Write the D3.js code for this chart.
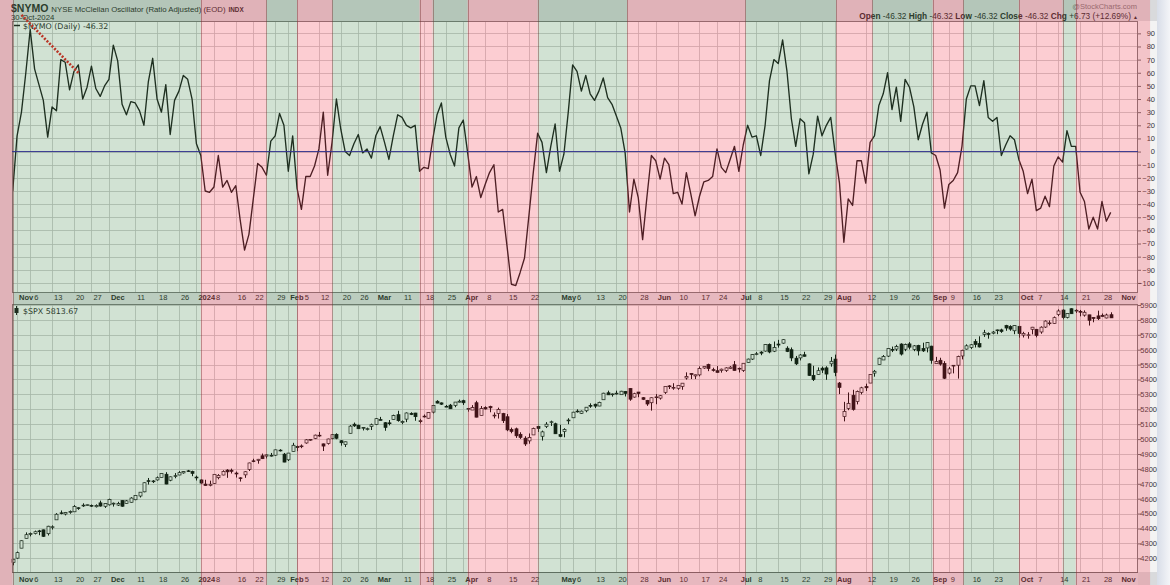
<!DOCTYPE html>
<html><head><meta charset="utf-8">
<script src="https://cdn.jsdelivr.net/npm/d3@7"></script>
<style>html,body{margin:0;padding:0;background:#fff;}svg{display:block;font-family:"Liberation Sans",Arial,sans-serif;}</style>
</head><body>
<svg id="chart" width="1170" height="585"></svg>
<script>
// ---------------- DATA ----------------
const firstDay = "2023-10-31";
const lastAxisDay = "2024-11-08";
const holidays = ["2023-11-23","2023-12-25","2024-01-01","2024-01-15","2024-02-19","2024-03-29","2024-05-27","2024-06-19","2024-07-04","2024-09-02"];

// $NYMO daily close, Oct 31 2023 .. Oct 30 2024
const nymo = [-30,12,30,60,93,63,51,39,11,34,31,70,68,47,61,66,40,49,65,48,
42,50,55,81,69,36,28,38,37,31,20,53,71,40,30,51,13,39,46,58,
55,40,6,-3,-30,-31,-27,-3,-27,-22,-31,-26,-52,-75,-63,-36,-9,-12,-18,8,
12,29,20,-15,12,-28,-44,-19,-19,-11,2,30,-18,7,40,17,0,-3,6,13,
-1,2,-5,12,19,7,-6,12,28,26,20,18,20,-15,-12,-13,9,28,37,11,
-2,-11,18,24,-1,-27,-19,-35,-25,-16,-10,-46,-44,-72,-101,-102,-92,-81,-49,-16,
14,7,-16,4,21,-15,-2,30,66,61,46,58,44,39,46,56,41,36,27,18,
-1,-46,-21,-35,-67,-34,-3,-7,-21,-5,-10,-32,-31,-40,-16,-32,-49,-34,-23,-22,
-19,2,-12,-16,-6,4,-15,5,20,11,12,-3,20,54,70,67,85,61,25,4,
25,22,-17,-2,27,12,20,26,-1,-24,-69,-36,-41,-7,-7,-24,7,12,35,44,
60,32,49,23,55,49,34,9,21,30,-1,-3,-14,-43,-25,-22,-16,4,40,50,
50,35,54,26,23,26,-3,5,12,9,-6,-15,-32,-21,-45,-43,-34,-42,-11,-4,
-8,16,4,4,-31,-38,-59,-50,-59,-38,-53,-46.32];

// $SPX daily OHLC, Oct 31 2023 .. Oct 30 2024
const spxOpen = [4171,4201,4268,4334,4364,4366,4384,4391,4365,4407,4458,4505,4497,4510,4512,4539,4553,4555,4555,4546,4572,4549,
4559,4564,4557,4587,4568,4576,4593,4618,4646,4721,4715,4726,4743,4764,4724,4754,4759,4773,4787,4782,
4745,4726,4698,4690,4703,4741,4759,4792,4791,4772,4740,4760,4797,4854,4857,4888,4886,4888,4892,4926,4899,
4861,4916,4951,4951,4974,4995,5005,5026,4968,4970,5004,5032,4989,4963,5039,5100,5093,5074,5068,5085,
5098,5131,5110,5109,5132,5164,5111,5134,5173,5175,5123,5154,5140,5181,5254,5243,5220,5228,5226,5248,
5258,5204,5195,5244,5158,5212,5218,5158,5172,5171,5150,5065,5069,5032,5006,4988,5028,5085,5019,5084,5114,5103,
5030,5050,5123,5143,5188,5173,5190,5226,5234,5222,5264,5311,5303,5305,5298,5320,5340,5282,5316,5278,5260,5244,
5283,5275,5314,5357,5343,5341,5354,5410,5441,5424,5431,5477,5500,5466,5459,5461,5461,5473,5499,
5471,5461,5514,5537,5572,5584,5591,5636,5590,5638,5644,5610,5600,5543,5545,5566,5505,5428,5434,5476,5478,5505,
5537,5376,5151,5206,5294,5252,5314,5352,5376,5443,5501,5531,5557,5602,5604,5638,5603,5639,5602,5629,5608,5612,
5624,5506,5529,5507,5443,5490,5496,5558,5604,5615,5655,5641,5703,5709,5711,5728,5733,5762,5756,5727,
5757,5698,5699,5737,5737,5719,5752,5778,5776,5836,5866,5817,5875,5860,5857,5832,5834,5816,5827,5831,5813,5835];
const spxHigh = [4195,4245,4320,4374,4373,4386,4391,4393,4418,4421,4503,4521,4511,4521,4557,4542,4569,4560,4561,4562,4587,4570,
4600,4574,4579,4590,4591,4610,4623,4644,4709,4739,4725,4749,4769,4778,4749,4772,4785,4785,4793,4788,
4755,4730,4727,4721,4765,4765,4791,4798,4802,4782,4744,4785,4842,4868,4867,4903,4898,4907,4929,4932,4907,
4906,4975,4957,4964,5000,5000,5030,5048,4970,5003,5033,5039,4993,4983,5094,5111,5097,5081,5077,5104,
5141,5149,5114,5128,5164,5190,5125,5179,5180,5176,5136,5165,5180,5226,5261,5246,5229,5236,5249,5265,
5264,5209,5228,5257,5222,5220,5224,5179,5211,5176,5168,5077,5077,5046,5019,5038,5077,5089,5057,5114,5124,5110,
5096,5073,5140,5183,5200,5192,5215,5240,5238,5251,5311,5325,5306,5325,5324,5323,5342,5311,5316,5282,5263,5280,
5302,5296,5355,5362,5375,5362,5376,5448,5442,5433,5488,5487,5506,5479,5490,5473,5482,5490,5524,
5480,5510,5540,5570,5584,5590,5636,5642,5655,5666,5670,5623,5615,5558,5570,5586,5508,5492,5481,5487,5489,5551,
5567,5383,5250,5313,5331,5326,5351,5372,5436,5464,5546,5564,5609,5621,5633,5643,5641,5651,5631,5633,5647,5651,
5626,5552,5546,5523,5484,5497,5560,5600,5636,5637,5671,5690,5733,5716,5725,5735,5741,5767,5764,5765,
5757,5720,5718,5753,5739,5757,5797,5796,5823,5871,5871,5843,5878,5872,5867,5864,5834,5817,5862,5843,5842,5851];
const spxLow = [4153,4197,4268,4334,4347,4360,4355,4343,4353,4393,4458,4495,4488,4499,4511,4525,4545,4553,4545,4541,4547,4538,
4554,4547,4551,4546,4566,4574,4590,4608,4643,4695,4705,4721,4743,4697,4717,4737,4758,4768,4780,4751,
4722,4700,4687,4683,4699,4730,4757,4740,4769,4742,4715,4740,4786,4845,4835,4866,4870,4882,4888,4917,4845,
4853,4916,4919,4939,4969,4988,5000,5016,4920,4963,4999,4999,4956,4947,5039,5082,5069,5058,5058,5061,
5094,5127,5056,5092,5131,5117,5100,5114,5161,5123,5105,5145,5138,5172,5240,5229,5216,5203,5214,5246,
5229,5184,5195,5146,5158,5198,5180,5139,5138,5108,5053,5039,5008,5001,4954,4969,5028,5048,4990,5074,5088,5035,
5013,5012,5100,5142,5178,5169,5180,5210,5209,5221,5264,5296,5285,5299,5298,5286,5257,5278,5281,5262,5223,5191,
5234,5265,5303,5336,5331,5331,5331,5399,5403,5403,5421,5472,5456,5453,5447,5446,5451,5470,5460,
5447,5451,5513,5531,5563,5563,5587,5576,5584,5614,5640,5584,5523,5497,5528,5554,5425,5390,5433,5444,5398,5486,
5422,5302,5119,5194,5191,5233,5300,5323,5376,5419,5501,5531,5551,5584,5591,5561,5590,5602,5590,5561,5585,5582,
5506,5504,5493,5403,5434,5441,5406,5535,5601,5605,5615,5615,5686,5674,5704,5704,5713,5727,5727,5704,
5681,5682,5674,5703,5683,5707,5746,5763,5774,5825,5804,5810,5840,5846,5824,5822,5762,5784,5799,5823,5810,5813];
const spxClose = [4193.8,4237.86,4317.78,4358.34,4365.98,4378.38,4382.78,4347.35,4415.24,4411.55,4495.7,4502.88,4508.24,4514.02,4547.38,4538.19,4556.62,4559.34,4550.43,4554.89,4550.58,4567.8,
4594.63,4569.78,4567.18,4549.34,4585.59,4604.37,4622.44,4643.7,4707.09,4719.55,4719.19,4740.56,4768.37,4698.35,4746.75,4754.63,4774.75,4781.58,4783.35,4769.83,
4742.83,4704.81,4688.68,4697.24,4763.54,4756.5,4783.45,4780.24,4783.83,4765.98,4739.21,4780.94,4839.81,4850.43,4864.6,4868.55,4894.16,4890.97,4927.93,4924.97,4845.65,
4906.19,4958.61,4942.81,4954.23,4995.06,4997.91,5026.61,5021.84,4953.17,5000.62,5029.73,5005.57,4975.51,4981.8,5087.03,5088.8,5069.53,5078.18,5069.76,5096.27,
5137.08,5130.95,5078.65,5104.76,5157.36,5123.69,5117.94,5175.27,5165.31,5150.48,5117.09,5149.42,5178.51,5224.62,5241.53,5234.18,5218.19,5203.58,5248.49,5254.35,
5243.77,5205.81,5211.49,5147.21,5204.34,5202.39,5209.91,5160.64,5199.06,5123.41,5061.82,5051.41,5022.21,5011.12,4967.23,5010.6,5070.55,5071.63,5048.42,5099.96,5116.17,5035.69,
5018.39,5064.2,5127.79,5180.74,5187.7,5187.67,5214.08,5222.68,5221.42,5246.68,5308.15,5297.1,5303.27,5308.13,5321.41,5307.01,5267.84,5304.72,5306.04,5266.95,5235.48,5277.51,
5283.4,5291.34,5354.03,5352.96,5346.99,5360.79,5375.32,5421.03,5433.74,5431.6,5473.23,5487.03,5473.17,5464.62,5447.87,5469.3,5477.9,5482.87,5460.48,
5475.09,5509.01,5537.02,5567.19,5572.85,5576.98,5633.91,5584.54,5615.35,5631.22,5667.2,5588.27,5544.59,5505,5564.41,5555.74,5427.13,5399.22,5459.1,5463.54,5436.44,5522.3,
5446.68,5346.56,5186.33,5240.03,5199.5,5319.31,5344.16,5344.39,5434.43,5455.21,5543.22,5554.25,5608.25,5597.12,5620.85,5570.64,5634.61,5616.84,5625.8,5592.18,5591.96,5648.4,
5528.93,5520.07,5503.41,5408.42,5471.05,5495.52,5554.13,5595.76,5626.02,5633.09,5634.58,5618.26,5713.64,5702.55,5718.57,5732.93,5722.26,5745.37,5738.17,5762.48,
5708.75,5709.54,5699.94,5751.07,5695.94,5751.13,5792.04,5780.05,5815.03,5859.85,5815.26,5842.47,5841.47,5864.67,5853.98,5851.2,5797.42,5809.86,5808.12,5823.52,5832.92,5813.67];

// regime bands: [start index, end index] in trading days, and colour
const bandStart = [-6,0,43,58,65,73,93,96,104,120,140.5,167.5,188.3,196.5,210.3,217.3,230,240,243];
const bandEnd   = [0,43,58,65,73,93,96,104,120,140.5,167.5,188.3,196.5,210.3,217.3,230,240,243,260];
const bandKind  = ["red","green","red","green","red","green","red","green","red","green","red","green","red","green","red","green","red","green","red"];

const nymoTicks = [90,80,70,60,50,40,30,20,10,0,-10,-20,-30,-40,-50,-60,-70,-80,-90,-100];
const spxTicks = [5900,5800,5700,5600,5500,5400,5300,5200,5100,5000,4900,4800,4700,4600,4500,4400,4300,4200];
const tickDates = ["2023-11-01","2023-11-06","2023-11-13","2023-11-20","2023-11-27","2023-12-01","2023-12-11","2023-12-18","2023-12-26","2024-01-02","2024-01-08","2024-01-16","2024-01-22","2024-01-29","2024-02-01","2024-02-05","2024-02-12","2024-02-20","2024-02-26","2024-03-01","2024-03-11","2024-03-18","2024-03-25","2024-04-01","2024-04-08","2024-04-15","2024-04-22","2024-05-01","2024-05-06","2024-05-13","2024-05-20","2024-05-28","2024-06-03","2024-06-10","2024-06-17","2024-06-24","2024-07-01","2024-07-08","2024-07-15","2024-07-22","2024-07-29","2024-08-01","2024-08-12","2024-08-19","2024-08-26","2024-09-03","2024-09-09","2024-09-16","2024-09-23","2024-10-01","2024-10-07","2024-10-14","2024-10-21","2024-10-28","2024-11-01"];
const tickLabels = ["Nov","6","13","20","27","Dec","11","18","26","2024","8","16","22","29","Feb","5","12","20","26","Mar","11","18","25","Apr","8","15","22","May","6","13","20","28","Jun","10","17","24","Jul","8","15","22","29","Aug","12","19","26","Sep","9","16","23","Oct","7","14","21","28","Nov"];

// trend-line annotation on NYMO: [index, value] endpoints
const trendStart = [2, 104];
const trendEnd = [15, 60];

// ---------------- CALENDAR ----------------
const fmt = d3.utcFormat("%Y-%m-%d");
const days = d3.utcDays(new Date(firstDay+"T00:00Z"), d3.utcDay.offset(new Date(lastAxisDay+"T00:00Z"),1))
  .filter(d => d.getUTCDay()!==0 && d.getUTCDay()!==6 && !holidays.includes(fmt(d)))
  .map(fmt);
const dayIndex = new Map(days.map((d,i)=>[d,i]));

// ---------------- LAYOUT ----------------
const svg = d3.select("#chart");
const W = 1170, H = 585;
const plotL = 12, plotR = 1138, axisR = 1157;
const upTop = 21, upBot = 292, loTop = 304, loBot = 572;

const x = d3.scaleLinear().domain([0, 251]).range([12.7, 1110.7]);
const yUp = d3.scaleLinear().domain([-106.9, 99.4]).range([upBot, upTop]);
const yLo = d3.scaleLinear().domain([4108, 5906.7]).range([loBot, loTop]);

// backgrounds
const defs = svg.append("defs");
const gr = defs.append("linearGradient").attr("id","rside").attr("x1","0").attr("x2","1");
gr.append("stop").attr("offset","0").attr("stop-color","#d8dde8");
gr.append("stop").attr("offset","1").attr("stop-color","#f4f5f8");
svg.append("rect").attr("width",W).attr("height",H).attr("fill","#d9dadc");
svg.append("rect").attr("x",axisR).attr("width",W-axisR).attr("height",H).attr("fill","url(#rside)");
svg.append("rect").attr("x",plotL).attr("y",upTop).attr("width",plotR-plotL).attr("height",upBot-upTop).attr("fill","#ffffff");
svg.append("rect").attr("x",plotL).attr("y",loTop).attr("width",plotR-plotL).attr("height",loBot-loTop).attr("fill","#ffffff");
svg.append("rect").attr("x",plotL).attr("y",upBot).attr("width",plotR-plotL).attr("height",loTop-upBot).attr("fill","#e2e3e5");
svg.append("rect").attr("x",plotL).attr("y",loBot).attr("width",plotR-plotL).attr("height",H-loBot).attr("fill","#e2e3e5");
svg.append("rect").attr("x",plotR).attr("y",upTop).attr("width",axisR-plotR).attr("height",loBot-upTop).attr("fill","#f3f3f3");

// grid
const grid = svg.append("g").attr("stroke","#c4c4c4").attr("stroke-width",0.8);
const tickIdx = tickDates.map(d=>dayIndex.get(d));
[[upTop,upBot],[loTop,loBot]].forEach(([t,b])=>{
  grid.selectAll(null).data(tickIdx).join("line")
    .attr("x1",d=>Math.round(x(d))+0.5).attr("x2",d=>Math.round(x(d))+0.5).attr("y1",t).attr("y2",b);
});
grid.selectAll(null).data(nymoTicks).join("line")
  .attr("x1",plotL).attr("x2",plotR).attr("y1",d=>Math.round(yUp(d))+0.5).attr("y2",d=>Math.round(yUp(d))+0.5);
grid.selectAll(null).data(spxTicks).join("line")
  .attr("x1",plotL).attr("x2",plotR).attr("y1",d=>Math.round(yLo(d))+0.5).attr("y2",d=>Math.round(yLo(d))+0.5);

// NYMO line
svg.append("path").datum(nymo)
  .attr("d", d3.line().x((d,i)=>x(i)).y(d=>yUp(d)))
  .attr("fill","none").attr("stroke","#111").attr("stroke-width",1.35).attr("stroke-linejoin","round");

// candles
const candles = spxClose.map((c,i)=>({i,o:spxOpen[i],h:spxHigh[i],l:spxLow[i],c}));
const cg = svg.append("g");
cg.selectAll("line").data(candles).join("line")
  .attr("x1",d=>Math.round(x(d.i))+0.5).attr("x2",d=>Math.round(x(d.i))+0.5)
  .attr("y1",d=>yLo(d.h)).attr("y2",d=>yLo(d.l)).attr("stroke","#000").attr("stroke-width",1);
cg.selectAll("rect").data(candles).join("rect")
  .attr("x",d=>Math.round(x(d.i))-1).attr("width",3)
  .attr("y",d=>yLo(Math.max(d.o,d.c)))
  .attr("height",d=>Math.max(0.8, Math.abs(yLo(d.o)-yLo(d.c))))
  .attr("fill",d=>d.c>=d.o?"#fff":"#000").attr("stroke","#000").attr("stroke-width",0.7);

// panel borders
[[upTop,upBot],[loTop,loBot]].forEach(([t,b])=>{
  svg.append("rect").attr("x",plotL+0.5).attr("y",t+0.5).attr("width",plotR-plotL-1).attr("height",b-t)
    .attr("fill","none").attr("stroke","#777").attr("stroke-width",1);
});
svg.append("line").attr("x1",plotL).attr("x2",plotR).attr("y1",loBot+0.5).attr("y2",loBot+0.5).attr("stroke","#666");

// right axes (labels right-aligned)
[[yUp,nymoTicks,1155,d3.format("d")],[yLo,spxTicks,1157,d3.format("d")]].forEach(([sc,tv,rx,f])=>{
  const ax = d3.axisRight(sc).tickValues(tv).tickSize(3).tickFormat(f);
  const g = svg.append("g").attr("transform",`translate(${plotR},0)`).call(ax);
  g.select(".domain").remove();
  g.selectAll("line").attr("stroke","#666");
  g.selectAll("text").attr("font-size",7.5).attr("fill","#333")
    .attr("font-family","Liberation Sans, Arial, sans-serif")
    .attr("text-anchor","end").attr("x",rx-plotR);
});

// x axis labels (nudged right when they would collide)
[upBot+8, loBot+10].forEach(yy=>{
  const tg = svg.append("g");
  const ts = tg.selectAll("text").data(tickDates).join("text")
    .attr("x",(d,k)=>x(tickIdx[k])+2).attr("y",yy)
    .attr("font-size",7.5).attr("fill","#222")
    .attr("font-weight",(d,k)=>/^\d{1,2}$/.test(tickLabels[k])?"normal":"bold")
    .text((d,k)=>tickLabels[k]);
  let prevEnd = -1e9;
  ts.each(function(){
    const el = d3.select(this);
    let xx = +el.attr("x");
    if (xx < prevEnd + 1) { xx = prevEnd + 1; el.attr("x", xx); }
    prevEnd = xx + this.getComputedTextLength();
  });
});

// headers
const hdr = svg.append("text").attr("x",11).attr("y",12).attr("fill","#222");
hdr.append("tspan").attr("font-weight","bold").attr("font-size",10.5).text("$NYMO");
hdr.append("tspan").attr("font-size",7.8).attr("dx",3).text("NYSE McClellan Oscillator (Ratio Adjusted) (EOD)");
hdr.append("tspan").attr("font-size",6.3).attr("font-weight","bold").attr("dx",3).text("INDX");
svg.append("text").attr("x",11).attr("y",19.5).attr("font-size",7.8).attr("fill","#222").text("30-Oct-2024");
svg.append("text").attr("x",1137).attr("y",9).attr("text-anchor","end").attr("font-size",7.5).attr("fill","#777").text("@StockCharts.com");
const ohlc = svg.append("text").attr("x",1131).attr("y",19).attr("text-anchor","end").attr("font-size",8.3).attr("fill","#222");
[["Open"," -46.32 "],["High"," -46.32 "],["Low"," -46.32 "],["Close"," -46.32 "],["Chg"," +6.73 (+12.69%)"]].forEach(([a,b])=>{
  ohlc.append("tspan").attr("font-weight","bold").text(a);
  ohlc.append("tspan").text(b);
});
svg.append("text").attr("x",1133).attr("y",18.5).attr("font-size",5).attr("fill","#222").text("▲");

// legends
svg.append("line").attr("x1",14).attr("x2",20).attr("y1",25.5).attr("y2",25.5).attr("stroke","#111").attr("stroke-width",1.5);
svg.append("text").attr("x",23).attr("y",28.5).attr("font-size",7.9).attr("font-family","DejaVu Sans, Verdana, sans-serif").attr("fill","#222").text("$NYMO (Daily) -46.32");
svg.append("rect").attr("x",14.5).attr("y",308).attr("width",4).attr("height",5).attr("fill","#111");
svg.append("line").attr("x1",16.5).attr("x2",16.5).attr("y1",306).attr("y2",315).attr("stroke","#111");
svg.append("text").attr("x",23).attr("y",314).attr("font-size",7.9).attr("font-family","DejaVu Sans, Verdana, sans-serif").attr("fill","#222").text("$SPX 5813.67");

// trend line annotation
svg.append("line").attr("x1",x(trendStart[0])).attr("y1",yUp(trendStart[1])).attr("x2",x(trendEnd[0])).attr("y2",yUp(trendEnd[1]))
  .attr("stroke","#e01818").attr("stroke-width",2.6).attr("stroke-dasharray","2,1.6");

// regime band overlays
const bandFill = {red:"rgba(244,70,90,0.27)", green:"rgba(70,140,80,0.25)"};
const bands = bandStart.map((s,k)=>({s,e:bandEnd[k],kind:bandKind[k]}));
const bx = v => Math.max(0, Math.min(axisR, x(v)));
svg.append("g").selectAll("rect").data(bands).join("rect")
  .attr("x",d=>bx(d.s)).attr("width",d=>bx(d.e)-bx(d.s)).attr("y",0).attr("height",H)
  .attr("fill",d=>bandFill[d.kind]);
svg.append("g").selectAll("line").data(bandStart.slice(1)).join("line")
  .attr("x1",d=>Math.round(x(d))+0.5).attr("x2",d=>Math.round(x(d))+0.5).attr("y1",0).attr("y2",H)
  .attr("stroke","rgba(120,50,50,0.45)").attr("stroke-width",1);

// zero line (on top, navy)
svg.append("line").attr("x1",plotL).attr("x2",plotR).attr("y1",yUp(0)).attr("y2",yUp(0))
  .attr("stroke","#35358e").attr("stroke-width",1);
</script>
</body></html>
